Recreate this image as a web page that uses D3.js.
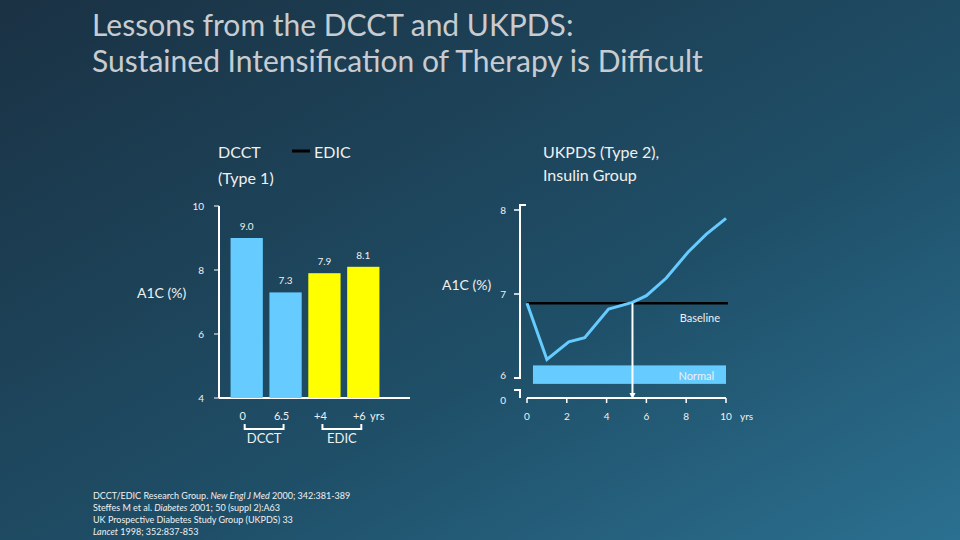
<!DOCTYPE html><html><head><meta charset="utf-8">
<script src="https://cdn.jsdelivr.net/npm/d3@7"></script>
<style>body{margin:0;background:#1b3a4d}svg{display:block;font-family:Lato,"Open Sans",sans-serif}</style></head><body>
<svg id="c" width="960" height="540"></svg>
<script>
const barLabels=["0","6.5","+4","+6"];
const barValues=[9.0,7.3,7.9,8.1];
const barColors=["#66ccff","#66ccff","#ffff00","#ffff00"];
const leftTicks=[4,6,8,10];
const lineYears=[0,1,2.1,2.9,4.1,5.3,6,7,8.1,9,10];
const lineValues=[6.89,6.22,6.43,6.48,6.82,6.9,6.98,7.19,7.5,7.71,7.9];
const baselineValue=6.89, crossYear=5.3, normalBand=[5.93,6.15];
const rightYTicks=[6,7,8], rightXTicks=[0,2,4,6,8,10];

const svg=d3.select("#c");
const defs=svg.append("defs");
const g=defs.append("linearGradient").attr("id","bg").attr("x1","0").attr("y1","0").attr("x2","1").attr("y2","1");
g.append("stop").attr("offset","0").attr("stop-color","#1a3143");
g.append("stop").attr("offset","0.6").attr("stop-color","#1f4f68");
g.append("stop").attr("offset","1").attr("stop-color","#2b7090");
svg.append("rect").attr("width",960).attr("height",540).attr("fill","url(#bg)");
const txt="#f0f0f0";
svg.append("text").attr("x",92).attr("y",36).attr("font-size",30).attr("fill","#c8ccd0").text("Lessons from the DCCT and UKPDS:");
svg.append("text").attr("x",92).attr("y",72).attr("font-size",30).attr("fill","#c8ccd0").text("Sustained Intensification of Therapy is Difficult");
const T=(x,y,s,fs,a)=>svg.append("text").attr("x",x).attr("y",y).attr("font-size",fs||16).attr("fill",txt).attr("text-anchor",a||"start").text(s);
T(218,158,"DCCT");T(218,184,"(Type 1)");
svg.append("line").attr("x1",292).attr("x2",310).attr("y1",151).attr("y2",151).attr("stroke","#000").attr("stroke-width",3);
T(314,158,"EDIC");
T(543,158,"UKPDS (Type 2),");T(543,181,"Insulin Group");
T(137,298,"A1C (%)",14);T(442,290,"A1C (%)",14);

// left chart
const yL=d3.scaleLinear().domain([4,10]).range([398,206]);
const xL=d3.scaleBand().domain(barLabels).range([229,381]).paddingInner(0.17).paddingOuter(0.04);
svg.append("line").attr("x1",219).attr("x2",410).attr("y1",398).attr("y2",398).attr("stroke","#fff").attr("stroke-width",2);
svg.append("line").attr("x1",219).attr("x2",219).attr("y1",206).attr("y2",398).attr("stroke","#fff").attr("stroke-width",2);
leftTicks.forEach(t=>{svg.append("line").attr("x1",214).attr("x2",219).attr("y1",yL(t)).attr("y2",yL(t)).attr("stroke","#fff");
 T(204,yL(t)+4,t,10,"end");});
barLabels.forEach((l,i)=>{const x=xL(l),w=xL.bandwidth();
 svg.append("rect").attr("x",x).attr("y",yL(barValues[i])).attr("width",w).attr("height",yL(4)-yL(barValues[i])).attr("fill",barColors[i]);
 T(x+w/2,yL(barValues[i])-8,barValues[i].toFixed(1),10,"middle");
 T(x+w/2-4,420,l,11,"middle");});
T(370,420,"yrs",11);
[[barLabels[0],barLabels[1],"DCCT"],[barLabels[2],barLabels[3],"EDIC"]].forEach(([a,b,s])=>{
 const x1=xL(a)+xL.bandwidth()/2-2,x2=xL(b)+xL.bandwidth()/2-2;
 svg.append("path").attr("d",`M${x1},424V429H${x2}V424`).attr("fill","none").attr("stroke","#fff").attr("stroke-width",2);
 T((x1+x2)/2,443,s,13,"middle");});

// right chart
const yR=d3.scaleLinear().domain([6,8]).range([378,210]);
const xR=d3.scaleLinear().domain([0,10]).range([527,726]);
svg.append("rect").attr("x",xR(0.3)).attr("width",xR(10)-xR(0.3)).attr("y",yR(normalBand[1])).attr("height",yR(normalBand[0])-yR(normalBand[1])).attr("fill","#66ccff");
T(xR(10)-12,380,"Normal",11,"end");
svg.append("path").attr("d",`M526,${yR(8)-5}H520V${yR(6)}H514`).attr("fill","none").attr("stroke","#fff").attr("stroke-width",2);
rightYTicks.forEach(t=>{svg.append("line").attr("x1",514).attr("x2",520).attr("y1",yR(t)).attr("y2",yR(t)).attr("stroke","#fff").attr("stroke-width",1.5);T(506,yR(t)+(t==6?1:4),t,10,"end");});
svg.append("path").attr("d","M514,390H520V398").attr("fill","none").attr("stroke","#fff").attr("stroke-width",2);
T(506,404,"0",10,"end");
svg.append("line").attr("x1",xR(0)).attr("x2",xR(10)).attr("y1",398).attr("y2",398).attr("stroke","#fff").attr("stroke-width",2);
rightXTicks.forEach(t=>{svg.append("line").attr("x1",xR(t)).attr("x2",xR(t)).attr("y1",398).attr("y2",403).attr("stroke","#fff").attr("stroke-width",1.5);T(xR(t),420,t,10,"middle");});
T(740,420,"yrs",10);
svg.append("line").attr("x1",xR(0)).attr("x2",xR(10.1)).attr("y1",yR(baselineValue)).attr("y2",yR(baselineValue)).attr("stroke","#000").attr("stroke-width",2.5);
T(xR(10)-6,322,"Baseline",11,"end");
svg.append("path").datum(lineYears.map((y,i)=>[y,lineValues[i]])).attr("d",d3.line().x(d=>xR(d[0])).y(d=>yR(d[1]))).attr("fill","none").attr("stroke","#66ccff").attr("stroke-width",3);
svg.append("line").attr("x1",xR(crossYear)).attr("x2",xR(crossYear)).attr("y1",yR(baselineValue)).attr("y2",395).attr("stroke","#fff").attr("stroke-width",2);
svg.append("path").attr("d",`M${xR(crossYear)-3},393L${xR(crossYear)+3},393L${xR(crossYear)},399Z`).attr("fill","#fff");

// refs
const refs=[["DCCT/EDIC Research Group. ","New Engl J Med"," 2000; 342:381-389"],["Steffes M et al. ","Diabetes"," 2001; 50 (suppl 2):A63"],["UK Prospective Diabetes Study Group (UKPDS) 33","",""],["","Lancet"," 1998; 352:837-853"]];
refs.forEach((r,i)=>{const t=svg.append("text").attr("x",93).attr("y",499+i*12).attr("font-size",9).attr("fill",txt);
 t.append("tspan").text(r[0]);t.append("tspan").attr("font-style","italic").text(r[1]);t.append("tspan").text(r[2]);});
</script></body></html>
